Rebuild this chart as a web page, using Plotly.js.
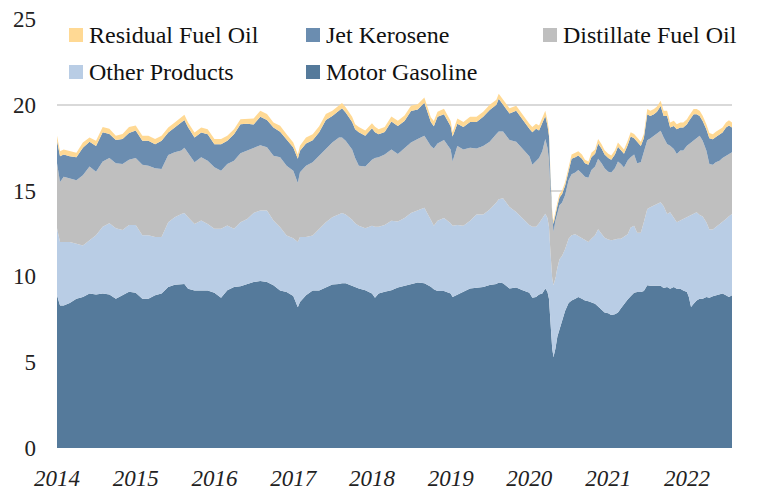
<!DOCTYPE html>
<html><head><meta charset="utf-8">
<script src="https://cdn.plot.ly/plotly-3.0.1.min.js"></script>
<style>html,body{margin:0;padding:0;background:#fff}#chart{width:778px;height:492px}</style>
</head><body><div id="chart"></div>
<script>
const dates = [
'2014-01-01','2014-01-15','2014-02-01','2014-03-01','2014-04-01','2014-05-01','2014-06-01','2014-07-01','2014-08-01','2014-09-01','2014-10-01','2014-11-01','2014-12-01',
'2015-01-01','2015-02-01','2015-03-01','2015-04-01','2015-05-01','2015-06-01','2015-07-01','2015-08-01','2015-08-15','2015-09-01','2015-10-01','2015-11-01','2015-12-01',
'2016-01-01','2016-02-01','2016-03-01','2016-04-01','2016-05-01','2016-06-01','2016-07-01','2016-08-01','2016-09-01','2016-10-01','2016-11-01','2016-12-01',
'2017-01-01','2017-01-22','2017-02-01','2017-03-01','2017-04-01','2017-05-01','2017-06-01','2017-07-01','2017-08-01','2017-08-15','2017-09-01','2017-10-01','2017-10-15','2017-11-01','2017-12-01',
'2018-01-01','2018-01-15','2018-02-01','2018-03-01','2018-04-01','2018-05-01','2018-06-01','2018-07-01','2018-08-01','2018-09-01','2018-10-01','2018-10-15','2018-11-01','2018-12-01',
'2019-01-01','2019-01-10','2019-02-01','2019-03-01','2019-04-01','2019-05-01','2019-06-01','2019-07-01','2019-08-01','2019-08-12','2019-09-01','2019-10-01','2019-11-01','2019-12-01',
'2020-01-01','2020-01-15','2020-02-01','2020-02-15','2020-03-01','2020-03-15','2020-03-25','2020-04-01','2020-04-08','2020-04-16','2020-04-22','2020-05-01','2020-05-10','2020-05-20','2020-06-01','2020-06-15','2020-07-01','2020-07-15','2020-08-01','2020-08-15','2020-09-01','2020-09-15','2020-10-01','2020-10-15','2020-11-01','2020-11-15','2020-12-01','2020-12-15',
'2021-01-01','2021-01-15','2021-02-01','2021-02-15','2021-03-01','2021-03-15','2021-04-01','2021-04-15','2021-05-01','2021-05-15','2021-06-01','2021-06-15','2021-07-01','2021-07-15','2021-08-01','2021-08-15','2021-09-01','2021-09-15','2021-10-01','2021-10-15','2021-11-01','2021-11-15','2021-12-01','2021-12-15',
'2022-01-01','2022-01-10','2022-01-20','2022-02-01','2022-02-15','2022-03-01','2022-03-15','2022-04-01','2022-04-15','2022-05-01','2022-05-15','2022-06-01','2022-06-15','2022-07-01','2022-07-15','2022-07-29'
];

const motorGasoline = [
8.9,8.3,8.3,8.45,8.7,8.8,9.0,8.95,9.0,8.95,8.7,8.9,9.1,
9.05,8.7,8.7,8.9,9.0,9.38,9.51,9.51,9.55,9.28,9.18,9.18,9.18,
9.05,8.75,9.2,9.38,9.42,9.57,9.67,9.73,9.67,9.48,9.18,9.09,
8.86,8.2,8.51,8.9,9.18,9.18,9.38,9.53,9.55,9.6,9.6,9.45,9.38,9.3,9.2,
9.0,8.75,9.0,9.1,9.2,9.35,9.45,9.55,9.65,9.6,9.4,9.25,9.15,9.15,
9.0,8.8,8.95,9.1,9.3,9.35,9.38,9.5,9.55,9.65,9.6,9.3,9.35,9.2,
9.05,8.75,8.8,8.95,9.0,9.3,9.1,8.7,7.2,5.8,5.3,5.8,6.5,6.9,7.4,8.0,8.45,8.6,8.7,8.8,8.7,8.6,8.55,8.5,8.4,8.25,8.05,7.9,
7.85,7.75,7.8,7.9,8.15,8.4,8.65,8.85,9.05,9.09,9.09,9.15,9.48,9.45,9.45,9.45,9.45,9.32,9.38,9.28,9.38,9.28,9.28,9.18,
9.09,8.8,8.22,8.4,8.6,8.7,8.7,8.8,8.75,8.85,8.9,8.95,9.0,8.9,8.8,8.9
];

const otherProducts = [
3.9,3.7,3.7,3.55,3.2,3.0,3.1,3.45,3.9,4.15,4.1,3.8,3.9,
3.95,3.7,3.7,3.4,3.3,3.78,3.94,4.13,4.15,4.17,3.88,4.08,3.88,
3.72,4.02,3.77,3.39,3.74,3.78,4.03,4.11,4.17,3.78,3.69,3.3,
3.37,3.8,3.78,3.39,3.21,3.59,3.78,3.92,4.09,4.1,4.0,3.85,3.72,3.65,3.6,
3.95,4.15,3.9,3.9,4.05,3.85,3.95,4.15,4.2,4.4,3.9,3.7,4.1,4.25,
4.1,4.15,4.05,3.85,3.95,4.25,4.22,4.4,4.75,4.85,4.95,4.75,4.4,4.2,
3.95,4.15,4.1,4.15,4.35,4.35,4.3,4.2,4.2,4.1,4.2,4.1,4.0,4.1,3.8,3.6,3.75,3.8,3.75,3.55,3.55,3.5,3.45,3.7,4.0,4.5,4.45,4.35,
4.3,4.35,4.35,4.3,4.05,3.9,3.8,4.0,3.9,3.46,3.46,4.0,4.45,4.58,4.68,4.77,4.87,4.77,4.26,4.46,4.07,3.88,3.98,4.17,
4.36,4.7,5.36,5.24,5.14,4.88,4.79,4.36,3.98,3.88,3.97,4.05,4.16,4.45,4.7,4.74
];

const distillateFuelOil = [
3.8,3.5,3.8,3.7,3.7,4.1,4.3,3.7,3.8,3.8,3.8,3.85,3.8,
3.9,4.1,4.05,4.0,3.96,3.91,3.78,3.69,3.8,3.75,3.59,3.68,3.68,
3.59,3.39,3.58,3.97,4.02,3.98,3.76,3.81,3.68,3.77,4.07,4.06,
3.93,3.45,3.78,4.16,4.26,4.26,4.26,4.36,4.46,4.4,4.3,4.1,3.8,3.5,3.6,
3.85,4.0,4.05,4.1,4.15,3.93,4.1,4.1,4.15,4.2,4.3,4.5,4.5,4.55,
4.3,3.75,4.6,4.45,4.25,3.85,4.0,3.95,4.0,3.95,3.9,3.9,4.1,4.0,
4.0,3.6,3.85,3.8,3.95,4.35,4.1,3.9,3.6,3.3,3.1,3.35,3.15,3.15,3.1,3.15,3.4,3.55,3.6,3.85,3.75,3.7,3.75,4.0,4.0,4.1,4.1,4.05,
3.95,3.95,4.15,4.5,4.35,4.05,4.3,4.1,4.15,4.05,4.1,4.05,4.01,4.01,4.07,4.07,4.17,4.01,4.07,3.88,3.97,3.97,4.07,3.98,
4.17,4.2,4.23,4.27,4.36,4.62,4.42,4.17,3.82,3.78,3.78,3.74,3.74,3.68,3.63,3.59
];

const jetKerosene = [
1.3,1.5,1.3,1.3,1.35,1.6,1.45,1.5,1.7,1.4,1.35,1.45,1.55,
1.6,1.4,1.45,1.4,1.64,1.31,1.44,1.63,1.62,1.49,1.44,1.44,1.54,
1.34,1.54,1.35,1.54,1.68,1.57,1.39,1.65,1.59,1.64,1.49,1.54,
1.35,1.4,1.25,1.3,1.29,1.37,1.69,1.54,1.55,1.7,1.65,1.6,1.67,1.95,1.8,
1.83,1.5,1.33,1.32,1.62,1.64,1.56,1.84,1.73,1.92,1.4,1.3,1.55,1.5,
1.35,1.45,1.3,1.3,1.5,1.55,1.7,1.85,1.7,1.9,1.55,1.55,1.8,1.7,
1.6,1.9,1.85,1.6,1.6,1.35,1.3,1.4,0.75,0.4,0.45,0.45,0.45,0.45,0.5,0.55,0.55,0.9,0.9,0.85,0.85,0.8,0.75,0.75,0.75,0.9,0.85,0.8,
0.8,0.75,0.8,0.85,0.8,0.8,0.9,1.2,0.95,1.25,0.95,0.85,1.51,1.31,1.25,1.31,1.44,1.25,1.64,1.05,1.35,1.44,1.34,1.34,
1.24,1.35,1.44,1.54,1.35,1.15,1.15,1.24,1.5,1.48,1.48,1.54,1.48,1.64,1.67,1.44
];

const residualFuelOil = [
0.3,0.3,0.3,0.3,0.25,0.3,0.25,0.3,0.3,0.3,0.25,0.3,0.35,
0.3,0.3,0.3,0.3,0.3,0.3,0.3,0.3,0.3,0.28,0.3,0.3,0.3,
0.3,0.3,0.3,0.3,0.3,0.3,0.35,0.35,0.35,0.3,0.35,0.3,
0.3,0.25,0.3,0.35,0.35,0.35,0.35,0.3,0.3,0.3,0.3,0.3,0.3,0.3,0.3,
0.3,0.32,0.3,0.28,0.3,0.3,0.32,0.3,0.3,0.3,0.28,0.3,0.3,0.32,
0.3,0.25,0.3,0.3,0.3,0.3,0.3,0.3,0.3,0.3,0.3,0.3,0.3,0.3,
0.3,0.3,0.3,0.3,0.3,0.3,0.3,0.3,0.25,0.2,0.2,0.2,0.2,0.2,0.2,0.2,0.25,0.25,0.25,0.25,0.25,0.2,0.2,0.25,0.25,0.25,0.25,0.25,
0.25,0.25,0.25,0.25,0.25,0.25,0.25,0.25,0.25,0.25,0.25,0.25,0.3,0.3,0.3,0.3,0.3,0.3,0.3,0.3,0.3,0.3,0.3,0.3,
0.3,0.3,0.3,0.3,0.3,0.3,0.3,0.3,0.3,0.3,0.3,0.3,0.3,0.3,0.3,0.3
];

const seriesNames = ['Motor Gasoline','Other Products','Distillate Fuel Oil','Jet Kerosene','Residual Fuel Oil'];
const seriesColors = ['#557a9b','#b9cde5','#bfbfbf','#6b8db0','#ffd994'];
const seriesData = [motorGasoline, otherProducts, distillateFuelOil, jetKerosene, residualFuelOil];

const traces = seriesData.map((s, i) => ({
  type: 'scatter', mode: 'lines', x: dates, y: s, name: seriesNames[i],
  stackgroup: 'one', fillcolor: seriesColors[i], line: {width: 0, color: seriesColors[i]},
  hoverinfo: 'skip', showlegend: false
}));

// manual legend (pixel layout -> paper coords)
const L = 57, W = 675, B = 448, H = 429;
const px = v => (v - L) / W;
const py = v => (B - v) / H;
const legendOrder = [
  {i: 4, x: 69, y: 35}, {i: 3, x: 306, y: 35}, {i: 2, x: 543, y: 35},
  {i: 1, x: 69, y: 72}, {i: 0, x: 306, y: 72}
];
const shapes = legendOrder.map(e => ({
  type: 'rect', xref: 'paper', yref: 'paper',
  x0: px(e.x), x1: px(e.x + 14), y0: py(e.y + 7), y1: py(e.y - 7),
  fillcolor: seriesColors[e.i], line: {width: 0}
}));
const annotations = legendOrder.map(e => ({
  xref: 'paper', yref: 'paper', x: px(e.x + 18), y: py(e.y),
  xanchor: 'left', yanchor: 'middle', showarrow: false,
  text: seriesNames[e.i], font: {size: 24, color: '#111'}
}));

const tickFont = {size: 23, color: '#222'};
const layout = {
  width: 778, height: 492,
  margin: {l: 57, r: 46, t: 19, b: 44, pad: 0},
  paper_bgcolor: '#fff', plot_bgcolor: '#fff',
  font: {family: '"Liberation Serif", "Times New Roman", serif', color: '#111'},
  xaxis: {type: 'date', range: ['2014-01-01', '2022-07-29'], dtick: 'M12', tick0: '2014-01-01',
    tickformat: '%Y', showgrid: false, zeroline: false, showline: false, ticks: '',
    tickfont: {size: 23, color: '#222', style: 'italic'}, ticklabelstandoff: 14},
  yaxis: {range: [0, 25], dtick: 5, tick0: 0, showgrid: true, gridcolor: '#d9d9d9', gridwidth: 2,
    zeroline: false, showline: false, ticks: '', tickfont: tickFont, ticklabelstandoff: 20},
  yaxis2: {range: [0, 25], dtick: 5, tick0: 0, overlaying: 'y', side: 'right', anchor: 'x',
    showgrid: false, zeroline: false, showline: false, ticks: '', tickfont: tickFont, ticklabelstandoff: 20},
  shapes: shapes, annotations: annotations, showlegend: false
};

Plotly.newPlot('chart', traces, layout, {displayModeBar: false, staticPlot: true});
</script></body></html>
